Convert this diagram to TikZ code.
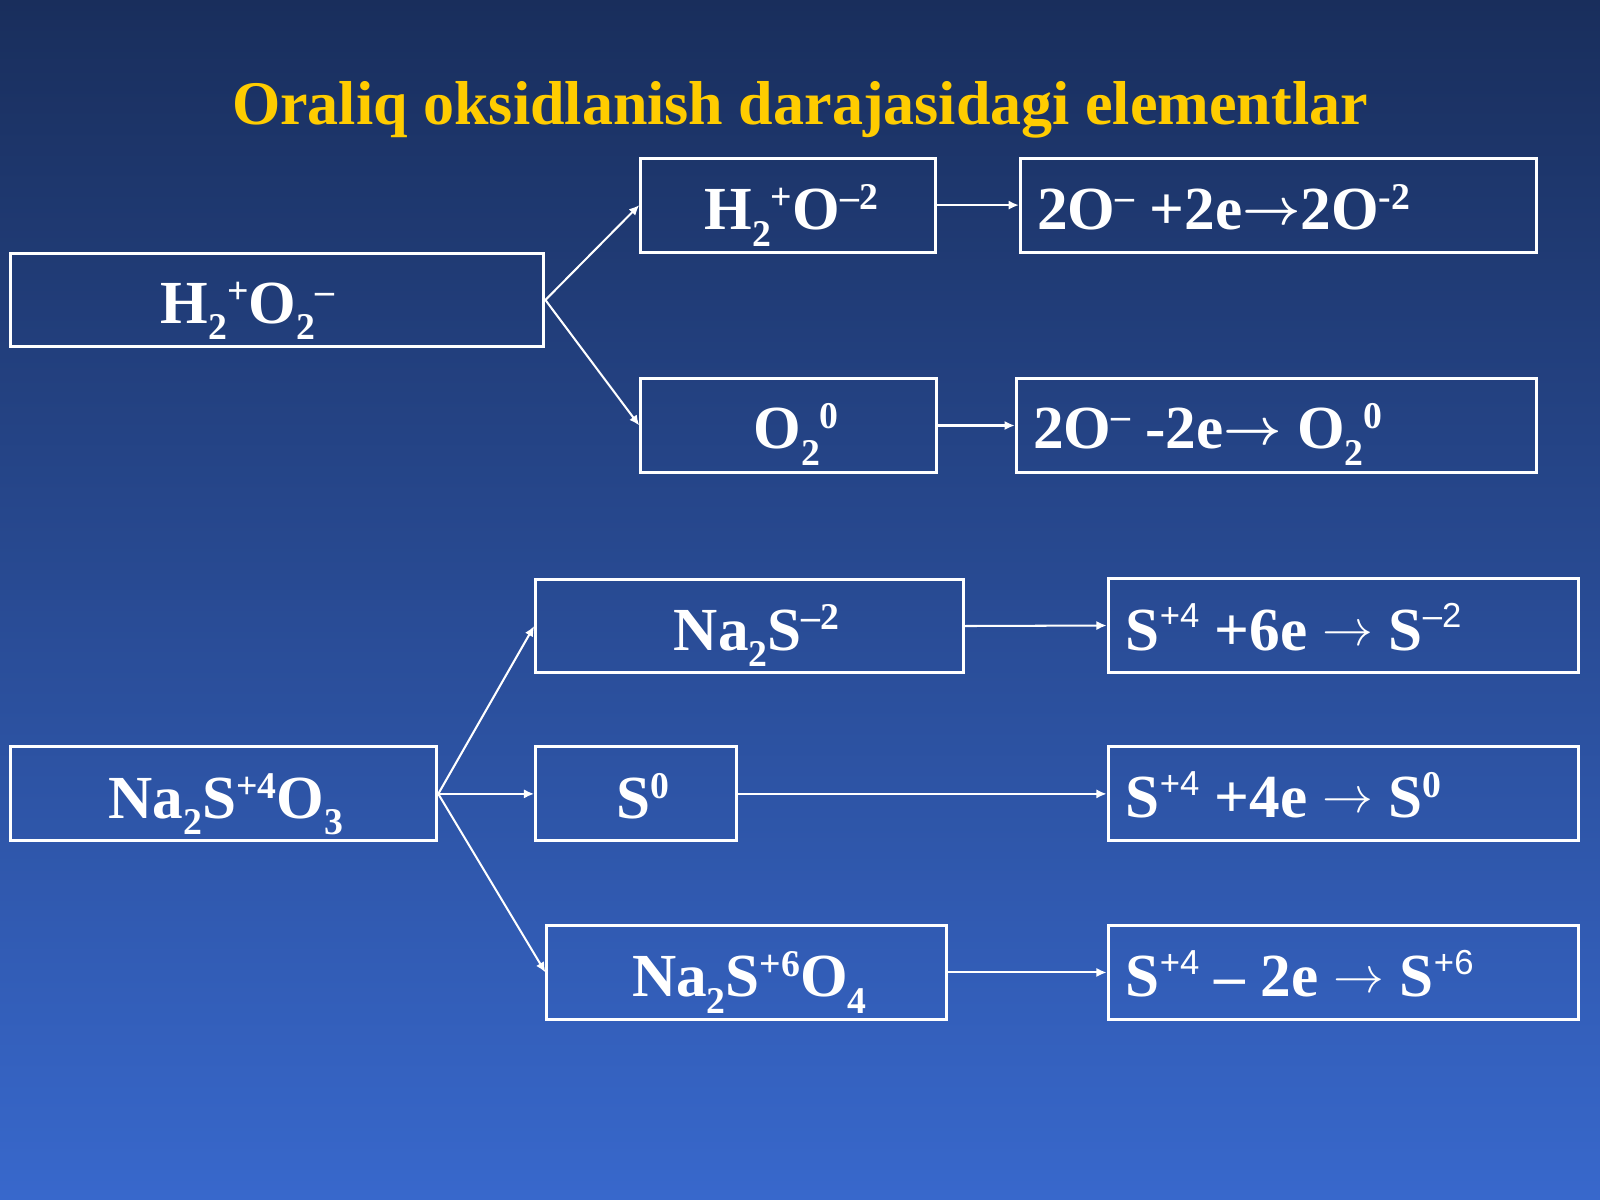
\documentclass[tikz,border=0pt]{standalone}
\usepackage{fontspec}
\setmainfont{Liberation Serif}
\newfontfamily\supsans{Liberation Sans}
\usetikzlibrary{arrows.meta}
\definecolor{bgtop}{RGB}{25,46,92}
\definecolor{bgbot}{RGB}{56,104,204}
\definecolor{ttl}{RGB}{255,204,0}
\newcommand\lo[1]{\raisebox{-0.27em}{\fontsize{18.5pt}{18.5pt}\selectfont #1}}
\newcommand\hi[1]{\raisebox{0.33em}{\fontsize{18.5pt}{18.5pt}\selectfont #1}}
\newcommand\his[1]{\raisebox{0.36em}{\fontsize{17pt}{17pt}\supsans\mdseries #1}}
\newcommand\rarr{\raisebox{0.08em}{$\rightarrow$}}
\newcommand\brarr{\raisebox{0.08em}{\boldmath$\rightarrow$}}
\tikzset{
  box/.style={draw=white, line width=1.5pt, inner sep=0pt, minimum height=46pt},
  txt/.style={text=white, font=\fontsize{30pt}{30pt}\selectfont\bfseries, inner sep=0pt, anchor=base west},
  arr/.style={draw=white, line width=1pt, -{Latex[length=5pt,width=4.5pt]}},
}
\begin{document}
\begin{tikzpicture}[x=0.5pt,y=-0.5pt]
\shade[top color=bgtop, bottom color=bgbot] (0,0) rectangle (1568,1176);
\useasboundingbox (0,0) rectangle (1568,1176);

\node[text=ttl, font=\fontsize{30.4pt}{30.4pt}\selectfont\bfseries, inner sep=0pt, anchor=base] (title) at (784,122) {Oraliq oksidlanish darajasidagi elementlar};

% boxes
\node[box, minimum width=261.5pt] (A) at (271.5,294) {};
\node[box, minimum width=144.5pt] (B) at (772.5,201) {};
\node[box, minimum width=253pt]   (C) at (1253,201) {};
\node[box, minimum width=145pt]   (D) at (773,417) {};
\node[box, minimum width=255pt]   (E) at (1251,417) {};
\node[box, minimum width=209.5pt] (F) at (734.5,613.5) {};
\node[box, minimum width=230.5pt] (G) at (1316.5,613) {};
\node[box, minimum width=209pt]   (H) at (219,778) {};
\node[box, minimum width=98.5pt]  (I) at (623.5,778) {};
\node[box, minimum width=230.5pt] (J) at (1316.5,778) {};
\node[box, minimum width=196pt]   (K) at (732,953) {};
\node[box, minimum width=230.5pt] (L) at (1316.5,953) {};

% texts
\node[txt] (At) at (157,317) {H\lo{2}\hi{+}O\lo{2}\hi{–}};
\node[txt] (Bt) at (690,225) {H\lo{2}\hi{+}O\hi{–2}};
\node[txt] (Ct) at (1016,225) {2O\hi{–} +2e\brarr2O\hi{-2}};
\node[txt] (Dt) at (738,440) {O\lo{2}\hi{0}};
\node[txt] (Et) at (1012,440) {2O\hi{–} -2e\brarr{} O\lo{2}\hi{0}};
\node[txt] (Ft) at (660,637) {Na\lo{2}S\hi{–2}};
\node[txt] (Gt) at (1103,637) {S\his{+4} +6e \rarr{} S\his{–2}};
\node[txt] (Ht) at (106,802) {Na\lo{2}S\hi{+4}O\lo{3}};
\node[txt] (It) at (604,802) {S\hi{0}};
\node[txt] (Jt) at (1103,801) {S\his{+4} +4e \rarr{} S\hi{0}};
\node[txt] (Kt) at (619,977) {Na\lo{2}S\hi{+6}O\lo{4}};
\node[txt] (Lt) at (1103,977) {S\his{+4} – 2e \rarr{} S\his{+6}};

% connectors
\draw[arr] (A.east) -- (B.west);
\draw[arr] (A.east) -- (D.west);
\draw[arr] (B.east) -- (C.west);
\draw[arr] (D.east) -- (E.west);
\draw[arr] (H.east) -- (F.west);
\draw[arr] (H.east) -- (I.west);
\draw[arr] (H.east) -- (K.west);
\draw[arr] (F.east) -- (G.west);
\draw[arr] (I.east) -- (J.west);
\draw[arr] (K.east) -- (L.west);
\end{tikzpicture}
\end{document}
